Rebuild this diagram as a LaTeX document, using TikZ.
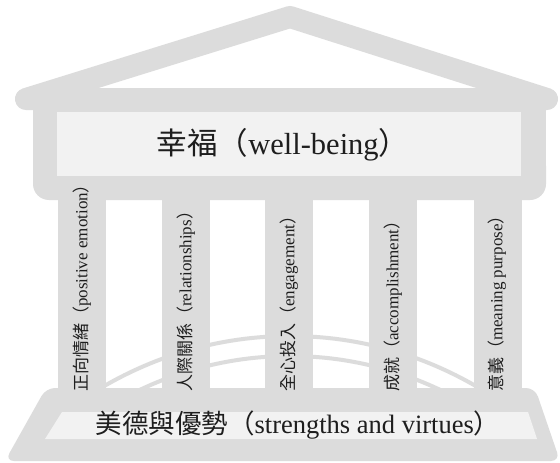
\documentclass[tikz,border=0pt]{standalone}
\usepackage{fontspec}
\setmainfont{Liberation Serif}
\newfontfamily\cjk{Noto Sans CJK TC}
\usepackage{tikz}
\usetikzlibrary{positioning}
\definecolor{stone}  {HTML}{DCDCDC}
\definecolor{stoneLt}{HTML}{F2F2F2}
\definecolor{ink}    {HTML}{1E1E1E}

\begin{document}
\begin{tikzpicture}[x=1pt, y=-1pt,
  pil/.style={fill=stone},
  band/.style={fill=stoneLt},
  arcln/.style={draw=stone, line width=4pt},
  lab/.style={inner sep=0pt, text=ink, font=\fontsize{30.5}{32}\selectfont},
  baselab/.style={inner sep=0pt, text=ink, font=\fontsize{26.5}{28}\selectfont},
  collab/.style={inner sep=0pt, text=ink, font=\fontsize{17}{19}\selectfont,
                 rotate=90, anchor=west}
]
\fill[white] (0,0) rectangle (560,463);
\useasboundingbox (0,0) rectangle (560,463);
\draw[arcln] plot[domain=-32:32, samples=60] ({290+370*sin(\x)},{706-370*cos(\x)});
\draw[arcln] plot[domain=-27:27, samples=60] ({290+350*sin(\x)},{706-350*cos(\x)});
\draw[draw=stone, line width=22pt, line join=round] (26,99) -- (290,17) -- (547,99) -- cycle;
\fill[pil] (33,99) rectangle (546,185);
\fill[pil, rounded corners=16] (33,150) rectangle (546,200);
\foreach \x in {58,162,265,369,474}
  \fill[pil] (\x,195) rectangle ++(48,197);
\fill[pil, rounded corners=9] (46,388) -- (535,388) -- (560,461) -- (5,461) -- cycle;
\fill[band] (57,112) rectangle (521,176);
\fill[band] (62,412) -- (528,412) -- (537,439) -- (45,439) -- cycle;
\node[lab] (wb) at (283,145) {{\cjk 幸福（}well-being{\cjk ）}};
\node[baselab] (sv) at (298,425) {{\cjk 美德與優勢（}strengths and virtues{\cjk ）}};
\node[collab] (pe) at (82,392)  {{\cjk 正向情緒（}positive emotion{\cjk ）}};
\node[collab] (re) at (186,392) {{\cjk 人際關係（}relationships{\cjk ）}};
\node[collab] (en) at (289,392) {{\cjk 全心投入（}engagement{\cjk ）}};
\node[collab] (ac) at (393,392) {{\cjk 成就（}accomplishment{\cjk ）}};
\node[collab] (me) at (497,392) {{\cjk 意義（}meaning purpose{\cjk ）}};
\end{tikzpicture}
\end{document}
